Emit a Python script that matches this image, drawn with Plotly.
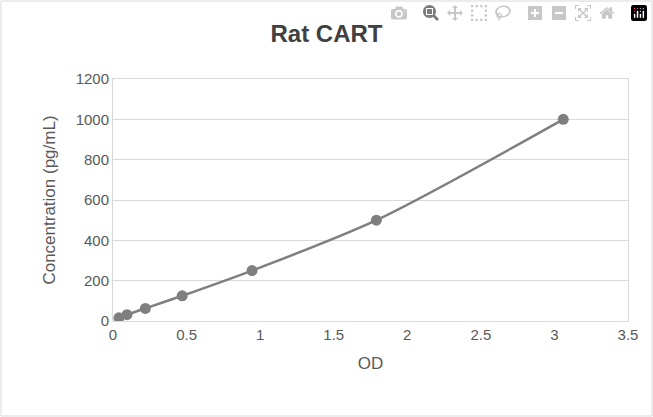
import plotly.graph_objects as go

od = [0.04, 0.095, 0.22, 0.47, 0.945, 1.79, 3.06]
conc = [15.6, 31.25, 62.5, 125, 250, 500, 1000]
x_ticks = [0, 0.5, 1, 1.5, 2, 2.5, 3, 3.5]
x_tick_labels = ["0", "0.5", "1", "1.5", "2", "2.5", "3", "3.5"]
y_ticks = [0, 200, 400, 600, 800, 1000, 1200]

fig = go.Figure(go.Scatter(
    x=od, y=conc, mode="lines+markers",
    line=dict(color="#7f7f7f", width=2.5, shape="spline", smoothing=0.8),
    marker=dict(color="#7f7f7f", size=11),
))
fig.update_layout(
    width=653, height=417,
    margin=dict(l=113, r=25, t=79, b=96),
    paper_bgcolor="white", plot_bgcolor="white",
    font=dict(family="Liberation Sans, Arial", color="#595959", size=15),
    title=dict(text="<b>Rat CART</b>", x=0.5, xanchor="center", y=0.92, yanchor="middle",
               font=dict(size=24, color="#404040")),
    showlegend=False,
    shapes=[dict(type="rect", xref="paper", yref="paper", x0=-112/515, x1=1+24/515,
                 y0=-95/242, y1=1+78/242, line=dict(color="#d9d9d9", width=1))],
)
fig.update_xaxes(range=[0, 3.5], tickvals=x_ticks, ticktext=x_tick_labels,
                 showgrid=False, showline=True, linecolor="#d9d9d9", mirror=True,
                 title=dict(text="OD", font=dict(size=17)), ticks="", zeroline=False)
fig.update_yaxes(range=[0, 1200], tickvals=y_ticks, showgrid=True, gridcolor="#d9d9d9",
                 showline=True, linecolor="#d9d9d9", mirror=True, zeroline=False,
                 title=dict(text="Concentration (pg/mL)", font=dict(size=17)), ticks="")
fig.write_html("out.html", post_script="document.body.style.margin='0';document.body.style.overflow='hidden';")
